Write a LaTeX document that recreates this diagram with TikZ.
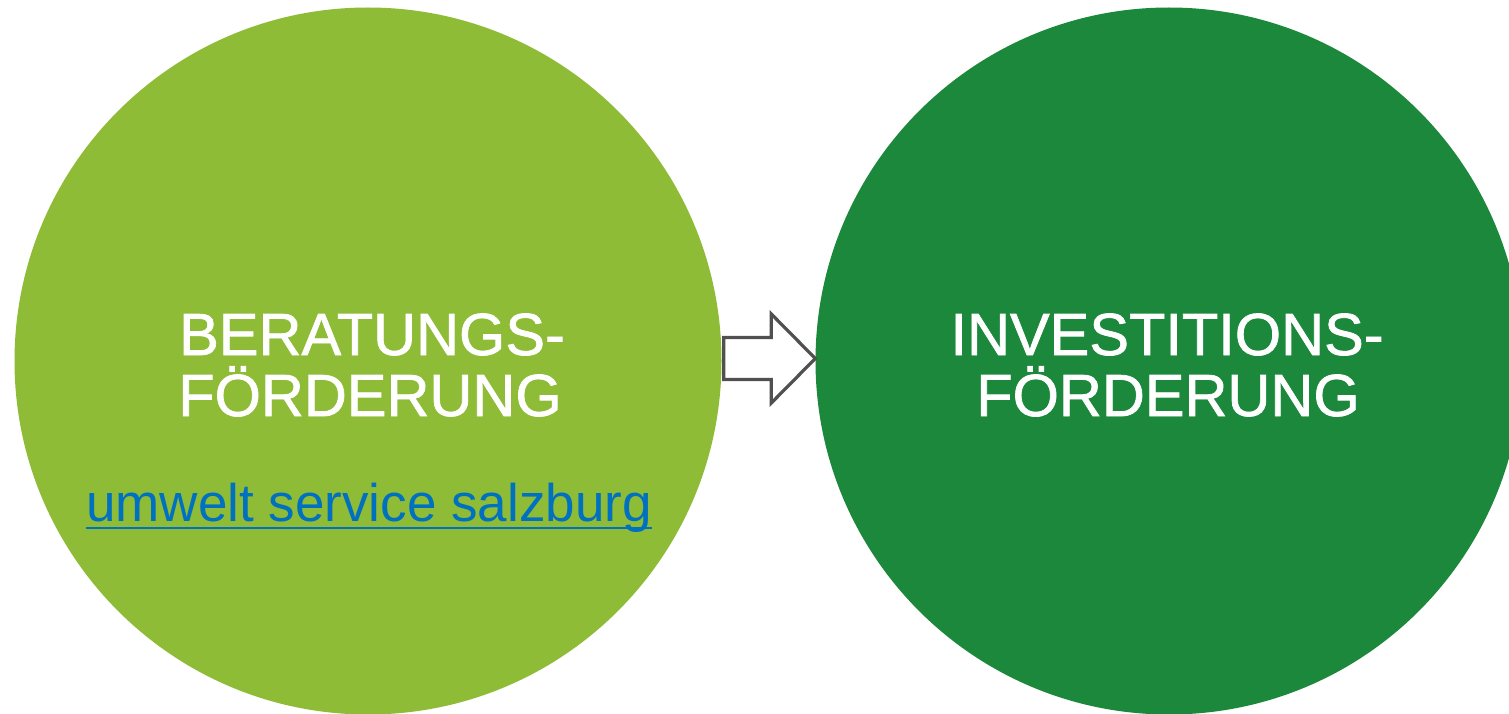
\documentclass[tikz,border=0pt]{standalone}
\usepackage{fontspec}
\setmainfont{Liberation Sans}
\newfontfamily\titlefont[FakeBold=1.2]{Liberation Sans}
\usetikzlibrary{calc}
\definecolor{lightgr}{HTML}{8EBC37}
\definecolor{darkgr}{HTML}{1B883B}
\definecolor{arrowgray}{HTML}{505050}
\definecolor{linkblue}{HTML}{0070C0}
\begin{document}
\begin{tikzpicture}[x=1pt,y=-1pt,
  bigcircle/.style={circle, inner sep=0pt, minimum size=707pt},
  titletext/.style={text=white, inner sep=0pt, anchor=base, font=\titlefont\fontsize{59.5}{61}\selectfont},
  linktext/.style={text=linkblue, inner sep=0pt, anchor=base west, font=\fontsize{53}{55}\selectfont},
  blockarrow/.style={draw=arrowgray, fill=white, line width=3.2pt, line join=miter}]
\useasboundingbox (0,0) rectangle (1509,714);
\clip (0,0) rectangle (1509,714);
\fill[white] (0,0) rectangle (1509,714);
\node[bigcircle, fill=lightgr] (L) at (368,361) {};
\node[bigcircle, fill=darkgr] (R) at (1169,361) {};
% titles
\node[titletext] (Lt1) at (372,355) {BERATUNGS-};
\node[titletext] (Lt2) at (370,416) {FÖRDERUNG};
\node[titletext] (Rt1) at (1167,355) {INVESTITIONS-};
\node[titletext] (Rt2) at (1168,416) {FÖRDERUNG};
% link
\node[linktext] (link) at (86,521) {umwelt service salzburg};
\draw[linkblue, line width=2.6pt] ($(link.base west)+(0,7)$) -- ($(link.base east)+(0,7)$);
% block arrow
\coordinate (atail) at ($(L.east)+(2,-2.5)$);
\coordinate (atip) at ($(R.west)+(0,-2.5)$);
\draw[blockarrow] ($(atail)+(0,-21)$) -- ($(atip)+(-44,-21)$) -- ($(atip)+(-44,-44.5)$) -- (atip)
  -- ($(atip)+(-44,44.5)$) -- ($(atip)+(-44,21)$) -- ($(atail)+(0,21)$) -- cycle;
\end{tikzpicture}
\end{document}
